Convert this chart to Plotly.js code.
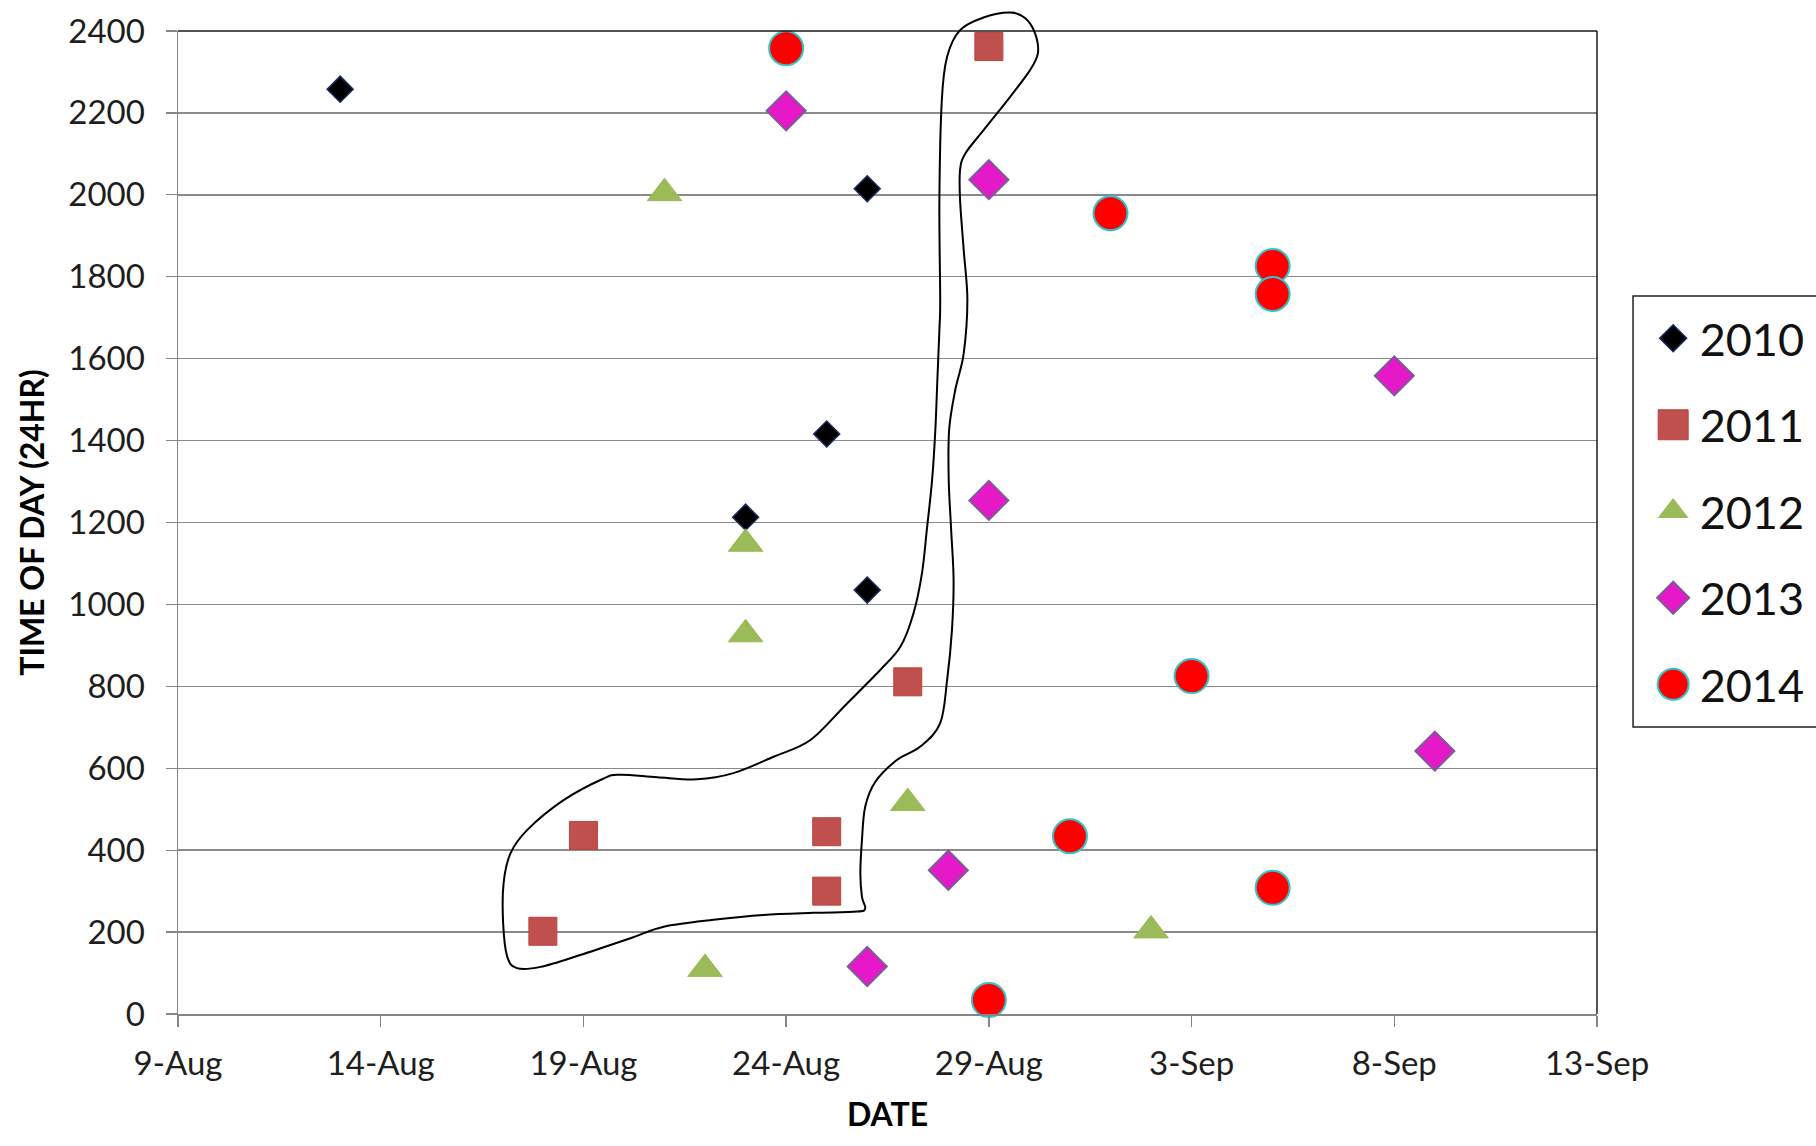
<!DOCTYPE html>
<html>
<head>
<meta charset="utf-8">
<script src="https://cdn.plot.ly/plotly-3.0.1.min.js"></script>
<style>
  html, body { margin: 0; padding: 0; background: #ffffff; }
  #chart { width: 1816px; height: 1146px; }
</style>
</head>
<body>
<div id="chart"></div>
<script>
// Sighting dates (plotted on a common calendar) and time of day (24 hr clock)
const years = ['2010', '2011', '2012', '2013', '2014'];

const dates2010 = ['2014-08-13', '2014-08-26', '2014-08-25', '2014-08-23', '2014-08-26'];
const times2010 = [2258, 2015, 1416, 1213, 1035];

const dates2011 = ['2014-08-29', '2014-08-27', '2014-08-19', '2014-08-25', '2014-08-25', '2014-08-18'];
const times2011 = [2362, 811, 436, 445, 300, 202];

const dates2012 = ['2014-08-21', '2014-08-23', '2014-08-23', '2014-08-27', '2014-09-02', '2014-08-22'];
const times2012 = [2004, 1148, 927, 515, 204, 110];

const dates2013 = ['2014-08-24', '2014-08-29', '2014-09-08', '2014-08-29', '2014-09-09', '2014-08-28', '2014-08-26'];
const times2013 = [2205, 2037, 1558, 1254, 642, 351, 116];

const dates2014 = ['2014-08-24', '2014-09-01', '2014-09-05', '2014-09-05', '2014-09-03', '2014-08-31', '2014-09-05', '2014-08-29'];
const times2014 = [2358, 1955, 1826, 1758, 825, 434, 308, 34];

// Axis extent and tick spacing
const dateStart = '2014-08-09';
const dateEnd = '2014-09-13';
const tickStepDays = 5;
const timeMax = 2400;
const timeStep = 200;

// Hand-drawn loop around the 2011 group: days after the first axis date, time of day
const outlineDay = [20.53, 20.90, 21.14, 21.21, 21.02, 20.53, 19.87, 19.42, 19.29, 19.29,
  19.38, 19.47, 19.38, 19.17, 19.02, 19.01, 19.07, 19.13, 19.09, 18.97,
  18.80, 18.31, 17.73, 17.20, 16.95, 16.87, 16.83, 16.87, 16.95, 16.75,
  15.68, 14.44, 13.21, 11.98, 11.16, 9.92, 8.94, 8.36, 8.12, 8.02,
  8.03, 8.20, 8.61, 9.51, 10.50, 10.91, 11.82, 12.80, 13.70, 14.69,
  15.60, 16.46, 17.32, 17.82, 18.14, 18.35, 18.47, 18.60, 18.68, 18.73,
  18.78, 18.80, 18.78, 18.84, 18.97, 19.29, 19.87];
const outlineTime = [2445, 2431, 2394, 2346, 2305, 2240, 2158, 2101, 2061, 1987,
  1865, 1743, 1613, 1523, 1426, 1304, 1182, 1060, 938, 815,
  710, 653, 620, 567, 506, 425, 344, 286, 258, 250,
  247, 242, 230, 213, 185, 144, 115, 112, 140, 221,
  319, 392, 449, 522, 575, 584, 578, 573, 588, 628,
  669, 754, 840, 897, 978, 1076, 1182, 1304, 1426, 1548,
  1670, 1743, 1987, 2232, 2337, 2402, 2433];

const FONT = 'Lato, "Open Sans", sans-serif';
const DAY_MS = 86400000;

const styles = [
  { symbol: 'diamond',     size: 20, color: '#000000', line: { color: '#1c2a66', width: 1.5 } },
  { symbol: 'square',      size: 28, color: '#c0504d', line: { color: '#b8453f', width: 1 } },
  { symbol: 'triangle-up', size: 30, color: '#9bbb59', line: { color: '#9bbb59', width: 1 } },
  { symbol: 'diamond',     size: 30, color: '#e619c8', line: { color: '#7d5a9a', width: 2 } },
  { symbol: 'circle',      size: 34, color: '#ff0000', line: { color: '#33c3c8', width: 2 } }
];
// Width of each legend swatch, in pixels
const legendSwatchPx = [27, 30, 29, 32, 31];

const seriesX = [dates2010, dates2011, dates2012, dates2013, dates2014];
const seriesY = [times2010, times2011, times2012, times2013, times2014];

const traces = years.map((yr, i) => ({
  type: 'scatter',
  mode: 'markers',
  name: yr,
  legendgroup: yr,
  x: seriesX[i],
  y: seriesY[i],
  marker: styles[i],
  cliponaxis: false,
  hoverinfo: 'x+y+name'
}));

// Closed smooth path (Catmull-Rom -> cubic Bezier) in paper units
const spanDays = (new Date(dateEnd) - new Date(dateStart)) / DAY_MS;
const pts = outlineDay.map((d, i) => [d / spanDays, outlineTime[i] / timeMax]);
function loopPath(p) {
  const n = p.length;
  const f = v => v.toFixed(5);
  let s = 'M' + f(p[0][0]) + ',' + f(p[0][1]);
  for (let i = 0; i < n; i++) {
    const p0 = p[(i - 1 + n) % n], p1 = p[i], p2 = p[(i + 1) % n], p3 = p[(i + 2) % n];
    const c1 = [p1[0] + (p2[0] - p0[0]) / 6, p1[1] + (p2[1] - p0[1]) / 6];
    const c2 = [p2[0] - (p3[0] - p1[0]) / 6, p2[1] - (p3[1] - p1[1]) / 6];
    s += ' C' + f(c1[0]) + ',' + f(c1[1]) + ' ' + f(c2[0]) + ',' + f(c2[1]) + ' ' + f(p2[0]) + ',' + f(p2[1]);
  }
  return s + ' Z';
}

const layout = {
  width: 1816,
  height: 1146,
  margin: { l: 178, r: 219, t: 31, b: 132, autoexpand: false },
  paper_bgcolor: '#ffffff',
  plot_bgcolor: '#ffffff',
  font: { family: FONT, color: '#1e1e1e' },
  showlegend: true,
  xaxis: {
    type: 'date',
    range: [dateStart, dateEnd],
    tick0: dateStart,
    dtick: tickStepDays * DAY_MS,
    tickformat: '%-d-%b',
    showgrid: false,
    zeroline: false,
    showline: true,
    linecolor: '#868686',
    linewidth: 1.5,
    ticks: 'outside',
    ticklen: 11,
    tickwidth: 1.3,
    tickcolor: '#868686',
    ticklabelstandoff: 9,
    tickfont: { family: FONT, size: 33, color: '#1e1e1e' },
    title: { text: '<b>DATE</b>', font: { family: FONT, size: 32, color: '#000000' }, standoff: 22 },
    automargin: false,
    fixedrange: true
  },
  yaxis: {
    range: [0, timeMax],
    dtick: timeStep,
    tick0: 0,
    showgrid: true,
    gridcolor: '#8a8a8a',
    gridwidth: 1.4,
    zeroline: false,
    showline: true,
    linecolor: '#868686',
    linewidth: 1.5,
    ticks: 'outside',
    ticklen: 11,
    tickwidth: 1.3,
    tickcolor: '#868686',
    ticklabelstandoff: 14,
    tickfont: { family: FONT, size: 33, color: '#1e1e1e' },
    title: { text: '<b>TIME OF DAY (24HR)</b>', font: { family: FONT, size: 32, color: '#000000' }, standoff: 14 },
    automargin: false,
    fixedrange: true
  },
  legend: {
    x: 1.0350,
    xanchor: 'left',
    y: 0.7238,
    yanchor: 'top',
    bgcolor: 'rgba(0,0,0,0)',
    borderwidth: 0,
    font: { family: FONT, size: 45, color: '#111111' },
    tracegroupgap: 25,
    itemwidth: 43,
    valign: 'middle'
  },
  shapes: [
    // plot frame: top and right edges
    { type: 'line', xref: 'paper', yref: 'paper', x0: 0, x1: 1, y0: 1, y1: 1, line: { color: '#1a1a1a', width: 1.5 }, layer: 'above' },
    { type: 'line', xref: 'paper', yref: 'paper', x0: 1, x1: 1, y0: 0, y1: 1, line: { color: '#1a1a1a', width: 1.5 }, layer: 'above' },
    // legend frame, running off the right edge of the page
    { type: 'rect', xref: 'paper', yref: 'paper', x0: 1.0254, x1: 1.2, y0: 0.2920, y1: 0.7304, line: { color: '#222222', width: 1.5 }, fillcolor: 'rgba(0,0,0,0)', layer: 'above' },
    // freehand loop
    { type: 'path', xref: 'paper', yref: 'paper', path: loopPath(pts), line: { color: '#000000', width: 2 }, fillcolor: 'rgba(0,0,0,0)', layer: 'above' }
  ]
};

Plotly.newPlot('chart', traces, layout, { displayModeBar: false, staticPlot: true }).then(gd => {
  // enlarge legend swatches to the marker widths used on the chart
  const groups = gd.querySelectorAll('.legend .traces');
  groups.forEach((g, i) => {
    const path = g.querySelector('.legendpoints path.scatterpts');
    if (!path) return;
    const bb = path.getBBox();
    const k = legendSwatchPx[i] / Math.max(bb.width, 1);
    const t = path.getAttribute('transform') || '';
    path.setAttribute('transform', t + ' scale(' + k.toFixed(3) + ')');
    path.style.strokeWidth = (styles[i].line.width / k).toFixed(2) + 'px';
  });
});
</script>
</body>
</html>
